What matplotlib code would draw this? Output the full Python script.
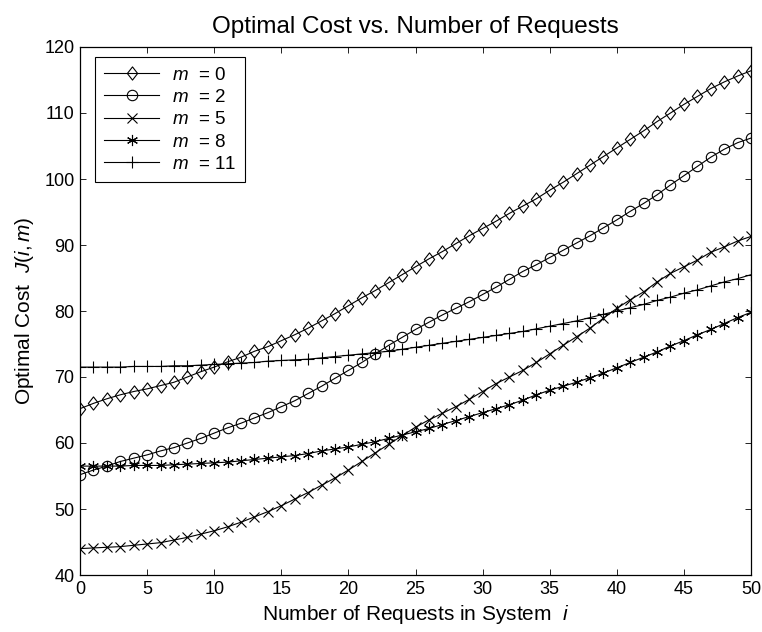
import matplotlib
matplotlib.use('Agg')
import matplotlib.pyplot as plt
from matplotlib.path import Path

plt.rcParams['font.family'] = ['Liberation Sans', 'DejaVu Sans']
plt.rcParams['mathtext.fontset'] = 'custom'
plt.rcParams['mathtext.rm'] = 'Liberation Sans'
plt.rcParams['mathtext.it'] = 'Liberation Sans:italic'

# number of requests in system
requests = list(range(51))

cost_m0 = [65.2, 66.0, 66.7, 67.3, 67.8, 68.2, 68.7, 69.2, 70.0, 70.8,
           71.5, 72.3, 73.0, 73.9, 74.6, 75.5, 76.4, 77.4, 78.5, 79.6,
           80.8, 82.0, 83.1, 84.3, 85.5, 86.7, 87.9, 89.0, 90.2, 91.4,
           92.5, 93.6, 94.8, 95.9, 97.0, 98.3, 99.5, 100.8, 102.1, 103.4,
           104.7, 106.0, 107.3, 108.7, 110.0, 111.3, 112.5, 113.7, 114.7, 115.6,
           116.4]
cost_m2 = [55.2, 55.9, 56.5, 57.2, 57.7, 58.2, 58.8, 59.3, 60.0, 60.7,
           61.5, 62.3, 63.0, 63.8, 64.6, 65.5, 66.4, 67.5, 68.6, 69.8,
           71.0, 72.2, 73.5, 74.8, 76.0, 77.2, 78.3, 79.4, 80.4, 81.4,
           82.5, 83.6, 84.8, 86.0, 87.0, 88.1, 89.2, 90.3, 91.4, 92.6,
           93.8, 95.1, 96.3, 97.6, 99.1, 100.5, 101.9, 103.3, 104.5, 105.5,
           106.2]
cost_m5 = [44.0, 44.1, 44.2, 44.3, 44.5, 44.7, 44.9, 45.3, 45.7, 46.2,
           46.7, 47.3, 48.0, 48.8, 49.6, 50.5, 51.5, 52.5, 53.6, 54.7,
           55.9, 57.2, 58.5, 59.8, 61.1, 62.4, 63.5, 64.5, 65.5, 66.6,
           67.8, 69.0, 70.0, 71.0, 72.2, 73.5, 74.8, 76.1, 77.4, 78.9,
           80.4, 81.7, 82.9, 84.4, 85.7, 86.7, 87.7, 88.9, 89.7, 90.6,
           91.3]
cost_m8 = [56.5, 56.5, 56.5, 56.5, 56.6, 56.6, 56.6, 56.7, 56.8, 56.9,
           57.0, 57.1, 57.3, 57.5, 57.7, 57.9, 58.1, 58.4, 58.8, 59.1,
           59.4, 59.8, 60.2, 60.7, 61.2, 61.7, 62.2, 62.8, 63.4, 64.0,
           64.6, 65.2, 65.8, 66.5, 67.3, 68.0, 68.6, 69.2, 69.9, 70.6,
           71.4, 72.2, 73.0, 73.8, 74.7, 75.5, 76.4, 77.2, 78.1, 79.0,
           79.8]
cost_m11 = [71.5, 71.5, 71.5, 71.5, 71.6, 71.6, 71.6, 71.7, 71.7, 71.8,
            71.9, 72.0, 72.1, 72.2, 72.4, 72.5, 72.6, 72.7, 72.9, 73.1,
            73.3, 73.5, 73.7, 73.9, 74.2, 74.5, 74.8, 75.1, 75.4, 75.7,
            76.0, 76.3, 76.6, 76.9, 77.3, 77.7, 78.1, 78.5, 79.0, 79.5,
            80.0, 80.5, 81.0, 81.6, 82.1, 82.7, 83.2, 83.8, 84.4, 84.9,
            85.5]

labels = ['$m$  = 0', '$m$  = 2', '$m$  = 5', '$m$  = 8', '$m$  = 11']

# matlab-like diamond (a bit narrower than tall)
diamond = Path([(0, 1), (0.78, 0), (0, -1), (-0.78, 0), (0, 1)],
               [Path.MOVETO, Path.LINETO, Path.LINETO, Path.LINETO, Path.CLOSEPOLY])
asterisk = (6, 2, 0)

fig = plt.figure(figsize=(7.62, 6.32), dpi=100)
ax = fig.add_axes([80 / 762, 57 / 632, 671 / 762, 528 / 632])

style = dict(color='black', lw=0.8, mfc='none', mec='black', mew=0.8)
ax.plot(requests, cost_m0, marker=diamond, ms=9.5, label=labels[0], **style)
ax.plot(requests, cost_m2, marker='o', ms=7.5, label=labels[1], **style)
ax.plot(requests, cost_m5, marker='x', ms=6.5, label=labels[2], **style)
ax.plot(requests, cost_m8, marker=asterisk, ms=8, label=labels[3], **style)
ax.plot(requests, cost_m11, marker='+', ms=8.5, label=labels[4], **style)

ax.set_xlim(0, 50)
ax.set_ylim(40, 120)
ax.set_xticks(range(0, 51, 5))
ax.set_yticks(range(40, 121, 10))
ax.tick_params(direction='in', top=True, right=True, length=4, width=0.6,
               labelsize=13, pad=4)
for sp in ax.spines.values():
    sp.set_linewidth(0.9)

ax.set_title('Optimal Cost vs. Number of Requests', fontsize=17.5, pad=10)
ax.set_xlabel('Number of Requests in System  $i$', fontsize=15, labelpad=4)
ax.set_ylabel('Optimal Cost  $\\mathit{J(i,m)}$', fontsize=15, labelpad=6)

leg = ax.legend(loc='upper left', bbox_to_anchor=(95 / 762, 1 - 57 / 632),
                bbox_transform=fig.transFigure, borderaxespad=0, fontsize=13.5,
                fancybox=False, edgecolor='black', framealpha=1,
                handlelength=2.9, handletextpad=0.7, labelspacing=0.28,
                borderpad=0.5)
leg.get_frame().set_linewidth(0.8)

fig.savefig('out.png', dpi=100)
